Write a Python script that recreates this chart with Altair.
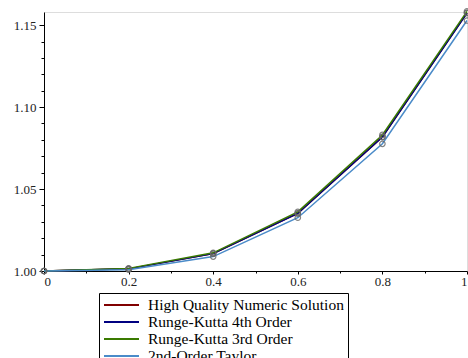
import altair as alt
import pandas as pd

x_vals = [0.0, 0.2, 0.4, 0.6, 0.8, 1.0]
exact = [1.0, 1.0013, 1.0106, 1.0352, 1.0818, 1.1575]
rk4 = [1.0, 1.0013, 1.0106, 1.0351, 1.0817, 1.1574]
rk3 = [1.0, 1.0016, 1.0111, 1.0361, 1.0830, 1.1584]
taylor = [1.0, 1.0008, 1.0088, 1.0325, 1.0776, 1.1528]

series_names = ["High Quality Numeric Solution", "Runge-Kutta 4th Order",
                "Runge-Kutta 3rd Order", "2nd-Order Taylor"]
series_colors = ["#800000", "#000080", "#3a7a00", "#4a8bc9"]
series_values = [exact, rk4, rk3, taylor]

x_major = [0.0, 0.2, 0.4, 0.6, 0.8, 1.0]
x_minor = [0.1, 0.3, 0.5, 0.7, 0.9]
y_major = [1.00, 1.05, 1.10, 1.15]
y_minor = [1.01, 1.02, 1.03, 1.04, 1.06, 1.07, 1.08, 1.09,
           1.11, 1.12, 1.13, 1.14]

rows = []
for name, vals in zip(series_names, series_values):
    for xv, yv in zip(x_vals, vals):
        rows.append({"x": xv, "y": yv, "series": name})
df = pd.DataFrame(rows)

FONT = "Liberation Serif, Times New Roman, serif"
xs = alt.Scale(domain=[0, 1], nice=False, zero=False)
ys = alt.Scale(domain=[1.0, 1.158], nice=False, zero=False)

common = dict(title=None, grid=False, domainColor="black", tickColor="black",
              labelFont=FONT, labelFontSize=13, labelColor="#222",
              labelOverlap=False)

color_enc = alt.Color("series:N",
                      scale=alt.Scale(domain=series_names, range=series_colors),
                      legend=alt.Legend(title=None, orient="none", legendX=55, legendY=281,
                                        symbolType="M-1,0H4", symbolSize=196,
                                        symbolStrokeWidth=2, labelFont=FONT,
                                        labelFontSize=15.5, labelColor="black",
                                        labelOffset=29, rowPadding=-0.5,
                                        padding=4, strokeColor="black",
                                        fillColor="white", cornerRadius=0,
                                        labelLimit=400))

lines = alt.Chart(df).mark_line(strokeWidth=1.5).encode(
    x=alt.X("x:Q", scale=xs, axis=alt.Axis(values=x_major, format="~g",
                                           tickSize=3, labelPadding=1, orient="bottom", **common)),
    y=alt.Y("y:Q", scale=ys, axis=alt.Axis(values=y_major, format=".2f",
                                           tickSize=5, labelPadding=3, orient="left", **common)),
    color=color_enc, order=alt.Order("x:Q"))

points = alt.Chart(df).mark_point(size=30, filled=False, color="#666",
                                  strokeWidth=1.2, opacity=0.8).encode(
    x=alt.X("x:Q", scale=xs, axis=alt.Axis(values=x_minor, labels=False, domain=False,
                                           tickSize=2, orient="bottom", title=None,
                                           grid=False, tickColor="black")),
    y=alt.Y("y:Q", scale=ys, axis=alt.Axis(values=y_minor, labels=False, domain=False,
                                           tickSize=3, orient="left", title=None,
                                           grid=False, tickColor="black")))

chart = alt.layer(lines, points).resolve_axis(x="independent", y="independent").properties(
    width=423, height=259,
    autosize=alt.AutoSizeParams(type="none"),
    padding={"left": 44, "top": 12, "right": 1, "bottom": 87},
).configure_view(stroke=None).configure(background="white")

chart.save("out.html", embed_options={"renderer": "svg", "actions": False})
